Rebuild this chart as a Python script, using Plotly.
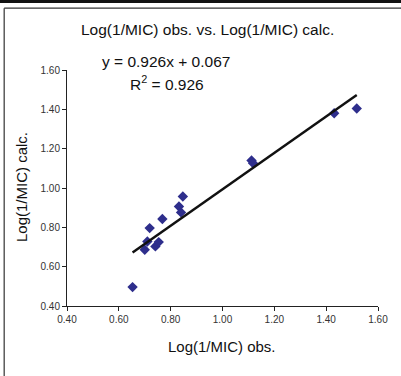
import plotly.graph_objects as go

obs = [0.653, 0.700, 0.710, 0.719, 0.741, 0.754, 0.768, 0.832, 0.840, 0.847, 1.112, 1.118, 1.431, 1.518]
calc = [0.496, 0.686, 0.728, 0.796, 0.703, 0.725, 0.842, 0.906, 0.876, 0.957, 1.140, 1.126, 1.380, 1.404]
slope = 0.926
intercept = 0.067
r2 = 0.926
tick_vals = [0.40, 0.60, 0.80, 1.00, 1.20, 1.40, 1.60]

fit_x = [min(obs), max(obs)]
fit_y = [slope * v + intercept for v in fit_x]

font = "Liberation Sans, Arial, sans-serif"

fig = go.Figure()
fig.add_trace(go.Scatter(x=obs, y=calc, mode="markers",
                         marker=dict(symbol="diamond", size=8, color="#2E2E8C"),
                         showlegend=False, hoverinfo="skip"))
fig.add_trace(go.Scatter(x=fit_x, y=fit_y, mode="lines",
                         line=dict(color="#111111", width=2.5),
                         showlegend=False, hoverinfo="skip"))

axis_common = dict(range=[0.4, 1.6], tickvals=tick_vals, tickformat=".2f",
                   showgrid=False, zeroline=False, showline=True,
                   linecolor="#222222", linewidth=1, ticks="outside",
                   ticklen=4, tickcolor="#222222",
                   tickfont=dict(family=font, size=10, color="#333333"))

fig.update_layout(
    width=401, height=376,
    margin=dict(l=67, r=23, t=70, b=70),
    paper_bgcolor="white", plot_bgcolor="white",
    hovermode=False, dragmode=False,
    xaxis=axis_common,
    yaxis=axis_common,
    font=dict(family=font),
    annotations=[
        dict(text="Log(1/MIC) obs. vs. Log(1/MIC) calc.", x=0.452, y=1.1735,
             xref="paper", yref="paper", showarrow=False,
             font=dict(size=15.5, color="#111111"), xanchor="center", yanchor="middle"),
        dict(text=f"y = {slope:.3f}x + {intercept:.3f}", x=0.318, y=1.034,
             xref="paper", yref="paper", showarrow=False,
             font=dict(size=15.5, color="#111111"), xanchor="center", yanchor="middle"),
        dict(text=f"R<sup>2</sup> = {r2:.3f}", x=0.32, y=0.945,
             xref="paper", yref="paper", showarrow=False,
             font=dict(size=15.5, color="#111111"), xanchor="center", yanchor="middle"),
        dict(text="Log(1/MIC) obs.", x=0.497, y=-0.172,
             xref="paper", yref="paper", showarrow=False,
             font=dict(size=15, color="#111111"), xanchor="center", yanchor="middle"),
        dict(text="Log(1/MIC) calc.", x=-0.144, y=0.505, textangle=-90,
             xref="paper", yref="paper", showarrow=False,
             font=dict(size=15, color="#111111"), xanchor="center", yanchor="middle"),
    ],
    shapes=[
        dict(type="line", xref="paper", yref="paper", x0=-0.3, x1=1.2,
             y0=1.290, y1=1.290, line=dict(color="#111111", width=3), layer="above"),
        dict(type="line", xref="paper", yref="paper", x0=-0.202, x1=1.2,
             y0=1.262, y1=1.262, line=dict(color="#333333", width=1.2), layer="above"),
        dict(type="line", xref="paper", yref="paper", x0=-0.202, x1=-0.202,
             y0=-0.4, y1=1.262, line=dict(color="#333333", width=1.2), layer="above"),
    ],
)

fig.write_html("out.html", config={"displayModeBar": False, "staticPlot": True},
               post_script="document.body.style.margin='0';document.body.style.overflow='hidden';document.documentElement.style.overflow='hidden';")
